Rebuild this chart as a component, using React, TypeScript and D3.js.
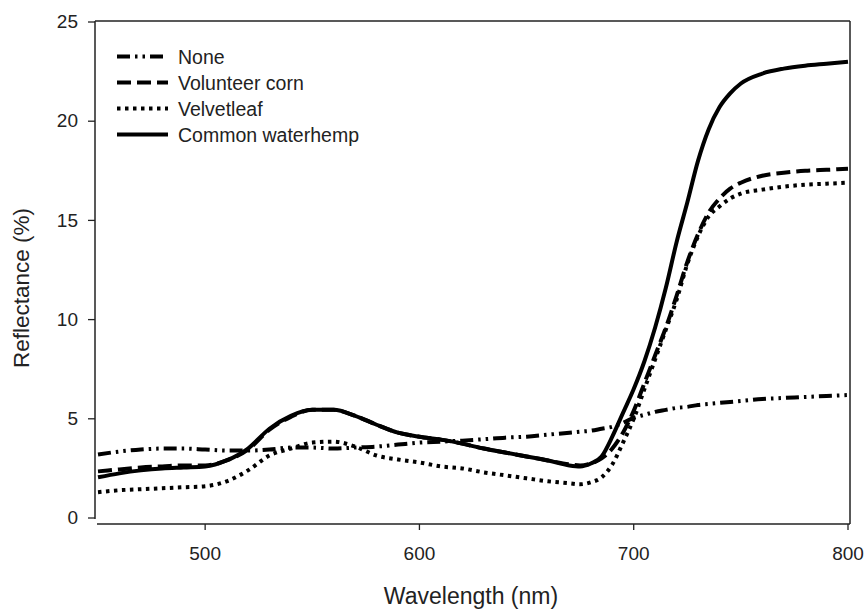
import React from 'react';
import * as d3 from 'd3';

// wavelength (nm) shared by all series
const wavelengths = [450, 460, 470, 480, 490, 500, 510, 520, 530, 540, 550, 560, 570, 580, 590, 600, 610, 620, 630, 640, 650, 660, 670, 675, 680, 685, 690, 695, 700, 705, 710, 715, 720, 725, 730, 735, 740, 745, 750, 760, 770, 780, 790, 800];

const none = [3.2, 3.35, 3.45, 3.5, 3.5, 3.45, 3.4, 3.4, 3.45, 3.55, 3.55, 3.5, 3.55, 3.6, 3.7, 3.8, 3.85, 3.9, 3.97, 4.05, 4.1, 4.2, 4.3, 4.35, 4.4, 4.5, 4.6, 4.8, 5.05, 5.2, 5.35, 5.45, 5.55, 5.6, 5.7, 5.75, 5.8, 5.85, 5.9, 6.0, 6.05, 6.1, 6.15, 6.2];
const volunteerCorn = [2.35, 2.45, 2.55, 2.6, 2.65, 2.65, 2.9, 3.45, 4.45, 5.1, 5.45, 5.45, 5.15, 4.7, 4.3, 4.1, 3.95, 3.75, 3.5, 3.3, 3.1, 2.9, 2.7, 2.65, 2.75, 3.0, 3.5, 4.3, 5.4, 6.8, 8.2, 9.6, 11.2, 12.9, 14.3, 15.4, 16.1, 16.6, 16.9, 17.25, 17.4, 17.5, 17.55, 17.6];
const velvetleaf = [1.3, 1.4, 1.45, 1.5, 1.55, 1.6, 1.85, 2.4, 3.15, 3.5, 3.8, 3.85, 3.6, 3.15, 2.95, 2.8, 2.6, 2.5, 2.3, 2.15, 2.0, 1.85, 1.75, 1.7, 1.8, 2.05, 2.7, 3.8, 5.0, 6.5, 8.0, 9.5, 11.0, 12.8, 14.2, 15.2, 15.7, 16.1, 16.35, 16.55, 16.7, 16.8, 16.85, 16.9];
const waterhemp = [2.05, 2.25, 2.4, 2.5, 2.55, 2.6, 2.9, 3.5, 4.5, 5.15, 5.45, 5.45, 5.15, 4.7, 4.3, 4.1, 3.95, 3.75, 3.5, 3.3, 3.1, 2.9, 2.65, 2.6, 2.75, 3.1, 4.1, 5.3, 6.5, 7.9, 9.6, 11.6, 13.9, 15.9, 18.0, 19.6, 20.7, 21.4, 21.9, 22.4, 22.65, 22.8, 22.9, 23.0];

const seriesNames = ['None', 'Volunteer corn', 'Velvetleaf', 'Common waterhemp'];
const xTicks = [500, 600, 700, 800];
const yTicks = [0, 5, 10, 15, 20, 25];

const dashes: Record<string, string> = {
  'None': '13,5,2.5,5,2.5,5',
  'Volunteer corn': '14,6',
  'Velvetleaf': '3.5,4.5',
  'Common waterhemp': '',
};

const font = 'Arial, "Liberation Sans", sans-serif';

export default function App() {
  const W = 867, H = 611;
  const left = 95, right = 850, top = 21, bottom = 524;

  const x = d3.scaleLinear().domain([450, 800]).range([98, 848]);
  const y = d3.scaleLinear().domain([0, 25]).range([518, 22]);

  const values = [none, volunteerCorn, velvetleaf, waterhemp];
  const line = d3.line<number>()
    .x((_, i) => x(wavelengths[i]))
    .y(d => y(d))
    .curve(d3.curveMonotoneX);

  return (
    <svg width={W} height={H} style={{ position: 'absolute', left: 0, top: 0, background: '#fff' }}>
      {/* frame */}
      <g stroke="#222" strokeWidth={1.5} fill="none">
        <line x1={left} y1={top} x2={left} y2={519} />
        <line x1={left} y1={top} x2={right} y2={top} />
        <line x1={right} y1={top} x2={right} y2={bottom} />
        <line x1={97} y1={bottom} x2={right} y2={bottom} />
      </g>

      {/* y ticks */}
      {yTicks.map(t => (
        <g key={'y' + t}>
          <line x1={left - 7} x2={left} y1={y(t)} y2={y(t)} stroke="#222" strokeWidth={1.3} />
          <text x={78} y={y(t)} dy="0.33em" textAnchor="end" fontSize={19} fontFamily={font} fill="#222">{t}</text>
        </g>
      ))}

      {/* x ticks */}
      {xTicks.map(t => (
        <g key={'x' + t}>
          <line x1={x(t)} x2={x(t)} y1={bottom} y2={bottom + 6} stroke="#222" strokeWidth={1.3} />
          <text x={x(t)} y={bottom + 36} textAnchor="middle" fontSize={19} fontFamily={font} fill="#222">{t}</text>
        </g>
      ))}

      <text x={471} y={604} textAnchor="middle" fontSize={23} fontFamily={font} fill="#222">Wavelength (nm)</text>
      <text transform={`translate(29,288) rotate(-90)`} textAnchor="middle" fontSize={22.5} fontFamily={font} fill="#222">Reflectance (%)</text>

      {/* series */}
      {values.map((v, i) => (
        <path key={seriesNames[i]} d={line(v) || ''} fill="none" stroke="#000" strokeWidth={4}
          strokeDasharray={dashes[seriesNames[i]]} />
      ))}

      {/* legend */}
      {seriesNames.map((n, i) => {
        const ly = 56.5 + i * 26;
        return (
          <g key={'lg' + n}>
            <line x1={117} x2={168} y1={ly} y2={ly} stroke="#000" strokeWidth={4} strokeDasharray={dashes[n]} />
            <text x={178} y={ly} dy="0.36em" fontSize={19.5} fontFamily={font} fill="#222">{n}</text>
          </g>
        );
      })}
    </svg>
  );
}
